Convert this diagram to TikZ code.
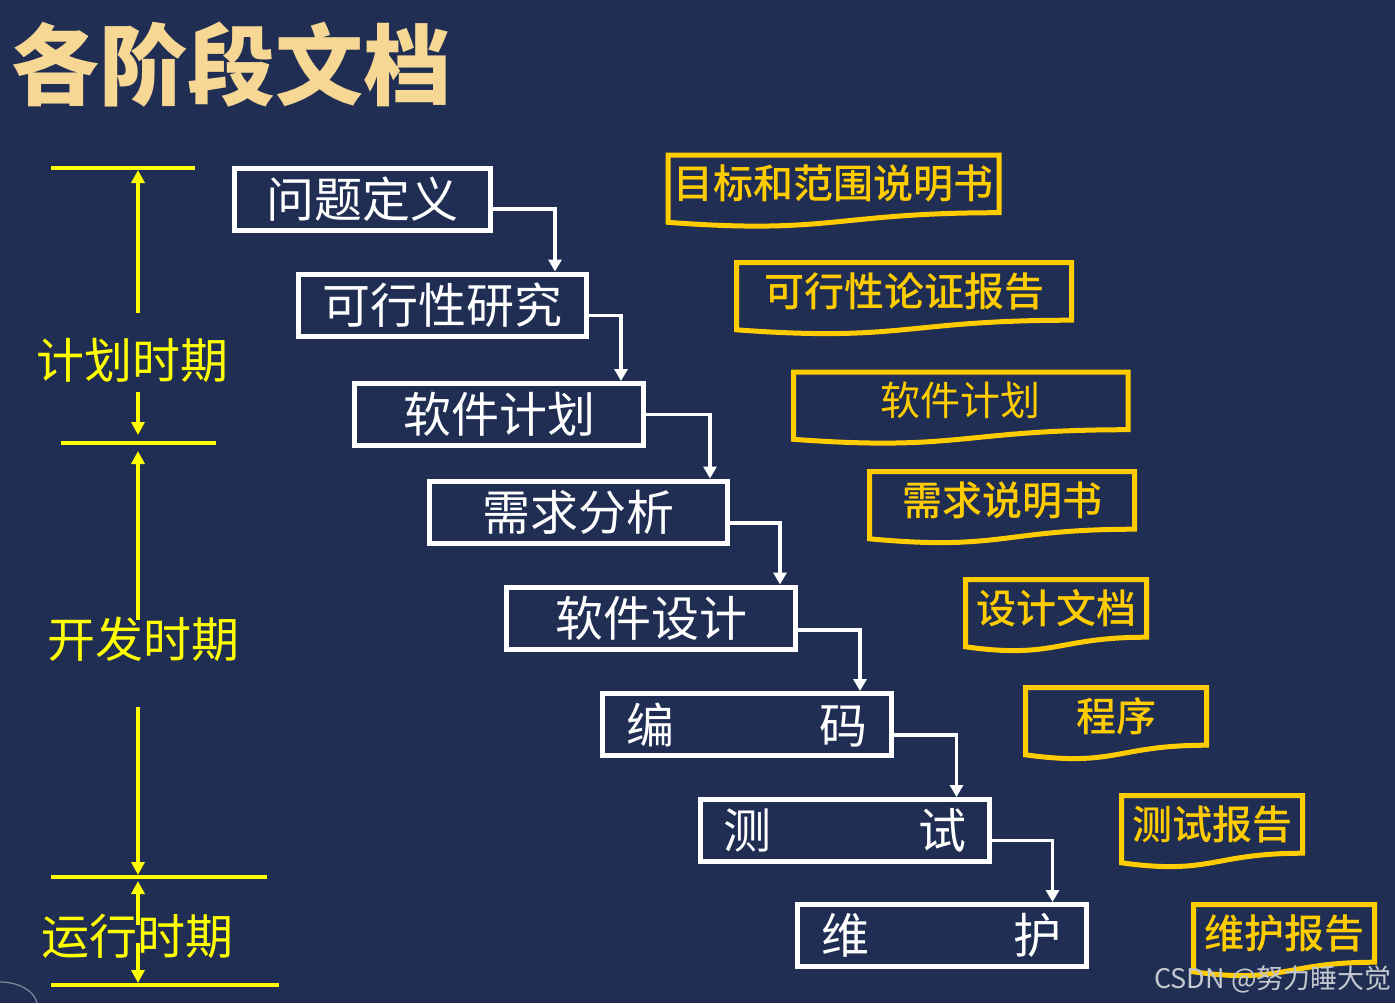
\documentclass[tikz,border=0pt]{standalone}
\usepackage{fontspec}
\setmainfont{Noto Sans CJK SC}
\newfontfamily\docfont{Noto Sans CJK SC Medium}
\usetikzlibrary{arrows.meta}

\definecolor{bgnavy}{HTML}{1F2E52}
\definecolor{titlecream}{RGB}{247,215,148}
\definecolor{docyellow}{HTML}{FFCC00}
\definecolor{axisyellow}{HTML}{FFFF00}
\definecolor{markgray}{HTML}{C3C7CF}

\tikzset{
  stage/.style={draw=white, line width=2.5pt, minimum height=31pt, inner sep=0pt,
    text=white, font=\fontsize{24}{28}\selectfont},
  flow/.style={draw=white, line width=1.8pt, -{Triangle[width=6.5pt,length=6pt]}},
  docframe/.style={draw=docyellow, line width=2.5pt},
  doctext/.style={text=docyellow, font=\docfont\fontsize{20}{24}\selectfont},
  bar/.style={draw=axisyellow, line width=2.3pt},
  axis/.style={draw=axisyellow, line width=2pt, -{Triangle[width=6.5pt,length=6.5pt]}},
  period/.style={text=axisyellow, font=\fontsize{24}{28}\selectfont},
}

\begin{document}
\begin{tikzpicture}[x=0.5pt, y=-0.5pt]
        % Background and frame
        \useasboundingbox (0,0) rectangle (1395,1003);
        \fill[bgnavy] (0,0) rectangle (1395,1003);
        \draw[markgray!60!bgnavy, line width=0.6pt] (0,982) .. controls (20,982) and (35,992) .. (37,1003);

        % Title
        \node[text=titlecream, font=\fontsize{44}{50}\selectfont\bfseries] (title) at (231.5,65) {各阶段文档};

        % Time periods on the left
        \draw[bar] (51,168) -- (195,168);
        \draw[bar] (61,443) -- (216,443);
        \draw[bar] (51,877) -- (267,877);
        \draw[bar] (51,985) -- (279,985);

        \draw[axis] (138,313) -- (138,170);
        \draw[axis] (138,392) -- (138,435);
        \draw[axis] (138,620) -- (138,451);
        \draw[axis] (138,707) -- (138,875);
        \draw[axis] (138,925) -- (138,881);
        \draw[axis] (138,943) -- (138,983);

        \node[period] (plan) at (132.5,360) {计划时期};
        \node[period] (devel) at (143.5,639.5) {开发时期};
        \node[period] (run) at (137.5,936.5) {运行时期};

        % Stages
        \node[stage, minimum width=128pt] (define) at (362.5,199.5) {问题定义};
        \node[stage, minimum width=144pt] (study) at (442.5,305) {可行性研究};
        \node[stage, minimum width=144.5pt] (splan) at (499,414.5) {软件计划};
        \node[stage, minimum width=149pt] (analyse) at (578.5,512) {需求分析};
        \node[stage, minimum width=144.5pt] (design) at (651,618) {软件设计};
        \node[stage, minimum width=144.5pt, text width=120.5pt] (code) at (747,724.5) {编\hfill 码};
        \node[stage, minimum width=144.5pt, text width=121.5pt] (test) at (844.5,830.5) {测\hfill 试};
        \node[stage, minimum width=144.5pt, text width=120pt] (keep) at (941.5,935.5) {维\hfill 护};

        % Stage to stage
        \foreach \a/\b/\dy/\dx in {define/study/-4.75/-17, study/splan/-5.25/-12.5,
            splan/analyse/0/-10, analyse/design/-5.5/-9, design/code/-6/-17,
            code/test/-5.25/-17.5, test/keep/-5/-18} {
            \draw[flow] ([yshift=\dy pt]\a.east) -| ([xshift=\dx pt]\b.north east);
        }

        % Documents of each stage
        \foreach \i/\xa/\xb/\ty/\txt in {1/668/999/155/目标和范围说明书,
            2/736.5/1071.5/262.5/可行性论证报告, 3/793.5/1128/372/{\rmfamily 软件计划},
            4/869.5/1134.5/471.5/需求说明书, 5/965.5/1146.5/579.5/设计文档,
            6/1025.5/1206.5/687.5/程序, 7/1121.5/1302.5/795.5/测试报告,
            8/1193.5/1374.5/904.5/维护报告} {
            \draw[docframe] (\xa,\ty) -- (\xb,\ty) -- (\xb,\ty+57.7)
                .. controls ({(\xa+\xb)/2},\ty+57.7) and ({(\xa+\xb)/2},\ty+79.7) .. (\xa,\ty+67.3) -- cycle;
            \node[doctext] (doc\i) at ({(\xa+\xb)/2},\ty+28.5) {\txt};
        }

        % Watermark
        \node[text=markgray, font=\fontsize{13.5}{15}\selectfont] (mark) at (1273,979) {CSDN @努力睡大觉};
    \end{tikzpicture}
\end{document}
